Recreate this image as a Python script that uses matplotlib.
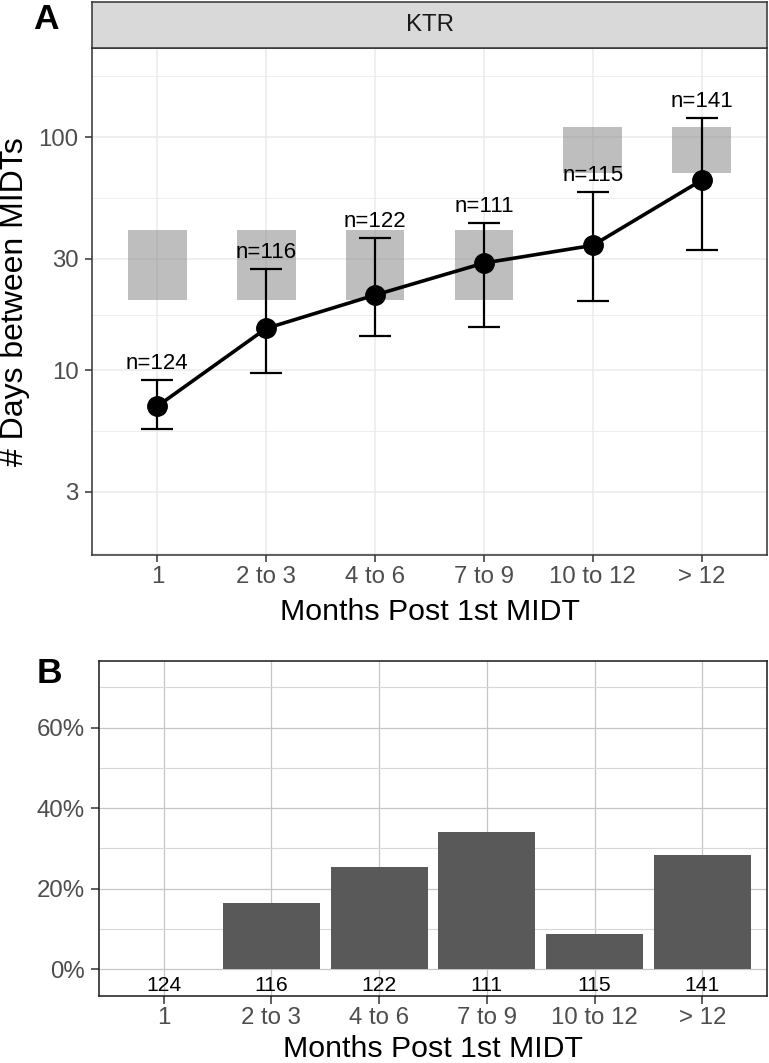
import numpy as np
import matplotlib
matplotlib.use("Agg")
import matplotlib.pyplot as plt
from matplotlib.ticker import PercentFormatter, FixedLocator, NullFormatter

plt.rcParams['font.family'] = ['Liberation Sans', 'DejaVu Sans']

# ---------------- data ----------------
categories = ["1", "2 to 3", "4 to 6", "7 to 9", "10 to 12", "> 12"]
median_days = [7.0, 15.1, 21.0, 28.8, 34.3, 65.3]
lower_days = [5.6, 9.7, 14.0, 15.3, 19.8, 32.7]
upper_days = [9.1, 27.1, 36.9, 42.8, 58.1, 120.7]
n_counts = [124, 116, 122, 111, 115, 141]
ref_low = [20, 20, 20, 20, 70, 70]
ref_high = [40, 40, 40, 40, 110, 110]
y_breaks = [3, 10, 30, 100]
pct_values = [0.0, 0.164, 0.253, 0.342, 0.087, 0.283]
pct_breaks = [0.0, 0.2, 0.4, 0.6]
pct_minor = [0.1, 0.3, 0.5, 0.7]

W, H = 769, 1063
fig = plt.figure(figsize=(W / 100, H / 100), dpi=100)


def rect(x0, y0, x1, y1):
    return [x0 / W, 1 - y1 / H, (x1 - x0) / W, (y1 - y0) / H]


x = np.arange(len(categories))
GREY20 = "#333333"
GREY30 = "#4D4D4D"

# ---------------- panel A ----------------
ax1 = fig.add_axes(rect(92, 48, 767, 555))
ax1.set_yscale("log")
ax1.set_xlim(-0.6, len(categories) - 0.4)
ax1.set_ylim(1.61, 241)
ax1.set_axisbelow(True)

lb = np.log10(y_breaks)
d = np.diff(lb)
ext = np.concatenate([[lb[0] - d[0]], lb, [lb[-1] + d[-1]]])
minor = 10 ** ((ext[:-1] + ext[1:]) / 2)
ax1.yaxis.set_major_locator(FixedLocator(y_breaks))
ax1.yaxis.set_minor_locator(FixedLocator(minor))
ax1.yaxis.set_minor_formatter(NullFormatter())
ax1.set_yticklabels([str(b) for b in y_breaks])
ax1.set_xticks(x)
ax1.set_xticklabels(categories)
ax1.grid(True, which="major", color="#EBEBEB", lw=1.1)
ax1.grid(True, which="minor", axis="y", color="#EBEBEB", lw=0.6)
ax1.tick_params(axis="both", which="major", length=5.3, width=1.1, color=GREY20,
                labelcolor=GREY30, labelsize=17.3)
ax1.tick_params(axis="y", which="major", pad=4.5)
ax1.tick_params(axis="x", which="major", pad=2.3)
ax1.tick_params(axis="y", which="minor", length=0)
for s in ax1.spines.values():
    s.set_color(GREY20)
    s.set_linewidth(1.1)

rlow = np.array(ref_low)
rhigh = np.array(ref_high)
ax1.bar(x, rhigh - rlow, bottom=rlow, width=0.54, color="#7F7F7F", alpha=0.5,
        linewidth=0, zorder=2)

med = np.array(median_days)
ax1.errorbar(x, med, yerr=[med - np.array(lower_days), np.array(upper_days) - med],
             fmt="none", ecolor="black", elinewidth=1.6, capsize=11.5, capthick=1.6,
             zorder=3)
ax1.plot(x, med, color="black", lw=2.6, marker="o", markersize=14, zorder=4)
for xi, up, n in zip(x, upper_days, n_counts):
    ax1.annotate(f"n={n}", (xi, up), xytext=(0, 8), textcoords="offset points",
                 ha="center", va="baseline", fontsize=16, color="black")

ax1.set_ylabel("# Days between MIDTs", fontsize=23, color="black")
ax1.yaxis.set_label_coords(-0.114, 0.5)
ax1.yaxis.label.set_va("center")
ax1.set_xlabel("Months Post 1st MIDT", fontsize=21.8, color="black")
ax1.xaxis.set_label_coords(0.5, -0.1134)
ax1.xaxis.label.set_va("center")

strip = fig.add_axes(rect(92, 2, 767, 48))
strip.set_facecolor("#D9D9D9")
strip.set_xticks([])
strip.set_yticks([])
for s in strip.spines.values():
    s.set_color(GREY20)
    s.set_linewidth(1.1)
strip.text(0.5, 0.5, "KTR", ha="center", va="center", fontsize=17.3,
           color="#1A1A1A", transform=strip.transAxes)

fig.text(33 / W, 1 - 3 / H, "A", fontsize=25.5, fontweight="bold",
         ha="left", va="top")

# ---------------- panel B ----------------
ax2 = fig.add_axes(rect(99, 661, 767, 996))
ax2.set_xlim(-0.6, len(categories) - 0.4)
ax2.set_ylim(-0.066, 0.765)
ax2.set_axisbelow(True)
ax2.set_yticks(pct_breaks)
ax2.yaxis.set_minor_locator(FixedLocator(pct_minor))
ax2.yaxis.set_major_formatter(PercentFormatter(1.0, decimals=0))
ax2.set_xticks(x)
ax2.set_xticklabels(categories)
ax2.grid(True, which="major", color="#C6C6C6", lw=0.9)
ax2.grid(True, which="minor", axis="y", color="#D8D8D8", lw=0.8)
ax2.tick_params(axis="both", which="major", length=5.8, width=1.1, color=GREY20,
                labelcolor=GREY30, labelsize=17.3)
ax2.tick_params(axis="y", which="major", pad=4.5)
ax2.tick_params(axis="x", which="major", pad=2.0)
ax2.tick_params(axis="y", which="minor", length=0)
for s in ax2.spines.values():
    s.set_color("#1A1A1A")
    s.set_linewidth(1.1)

ax2.bar(x, pct_values, width=0.9, color="#595959", linewidth=0, zorder=2)
for xi, n in zip(x, n_counts):
    ax2.annotate(str(n), (xi, 0), xytext=(0, -15.6), textcoords="offset points",
                 ha="center", va="baseline", fontsize=15.2, color="black")

ax2.set_xlabel("Months Post 1st MIDT", fontsize=21.8, color="black")
ax2.xaxis.set_label_coords(0.5, -0.158)
ax2.xaxis.label.set_va("center")

fig.text(37 / W, 1 - 657 / H, "B", fontsize=25.5, fontweight="bold",
         ha="left", va="top")

fig.savefig("out.png", dpi=100)
